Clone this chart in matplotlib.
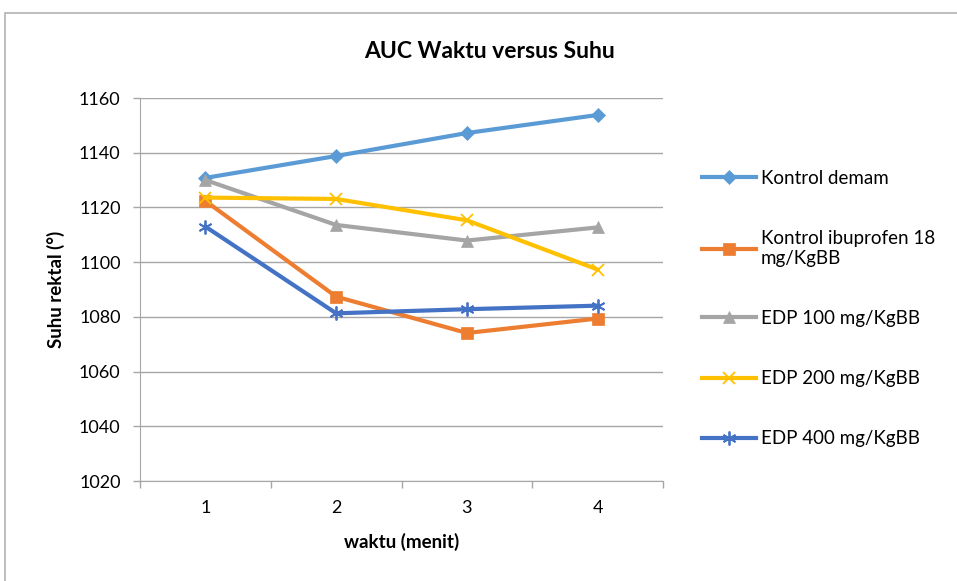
import matplotlib.pyplot as plt
from matplotlib.patches import Rectangle

plt.rcParams['font.family'] = ['Lato', 'DejaVu Sans']

# data
waktu = [1, 2, 3, 4]
kontrol_demam = [1130.8, 1138.8, 1147.2, 1153.8]
kontrol_ibuprofen = [1122.4, 1087.4, 1074.1, 1079.4]
edp_100 = [1130.0, 1113.6, 1107.9, 1112.7]
edp_200 = [1123.6, 1123.1, 1115.3, 1097.3]
edp_400 = [1113.0, 1081.3, 1082.8, 1084.1]

labels = ['Kontrol demam', 'Kontrol ibuprofen 18\nmg/KgBB', 'EDP 100 mg/KgBB',
          'EDP 200 mg/KgBB', 'EDP 400 mg/KgBB']
series = [kontrol_demam, kontrol_ibuprofen, edp_100, edp_200, edp_400]
colors = ['#5B9BD5', '#ED7D31', '#A5A5A5', '#FFC000', '#4472C4']
markers = ['D', 's', '^', 'x', (6, 2, 0)]
msizes = [7, 9, 9, 9, 10]

fig = plt.figure(figsize=(9.57, 5.81), dpi=100)
ax = fig.add_axes([0.1463, 0.1721, 0.5465, 0.6592])

# chart border
fig.patches.append(Rectangle((5 / 957, -0.01), 1.0, 1 - 13 / 581 + 0.01,
                             transform=fig.transFigure, fill=False,
                             edgecolor='#b3b3b3', linewidth=1.2))

for vals, lab, c, m, ms in zip(series, labels, colors, markers, msizes):
    ax.plot(waktu, vals, color=c, linewidth=3.0, marker=m, markersize=ms,
            markeredgewidth=1.3 if m not in ('D', 's', '^') else 0.5,
            markeredgecolor=c, label=lab)

ax.set_xlim(0.5, 4.5)
ax.set_ylim(1020, 1160)
ax.set_yticks(range(1020, 1161, 20))
ax.set_xticks(waktu)
ax.set_xticks([0.5, 1.5, 2.5, 3.5, 4.5], minor=True)
ax.tick_params(axis='x', which='major', length=0, pad=14, labelsize=13)
ax.tick_params(axis='x', which='minor', length=5, color='#a6a6a6', width=1)
ax.tick_params(axis='y', length=5, color='#a6a6a6', width=1, pad=9, labelsize=13)
ax.grid(axis='y', color='#a6a6a6', linewidth=1)
ax.set_axisbelow(True)
for s in ['top', 'right']:
    ax.spines[s].set_visible(False)
for s in ['left', 'bottom']:
    ax.spines[s].set_color('#a6a6a6')

fig.text(490 / 957, 1 - 52 / 581, 'AUC Waktu versus Suhu', fontsize=16.5,
         fontweight='bold', ha='center', va='center')
ax.set_xlabel('waktu (menit)', fontsize=13.5, fontweight='bold', labelpad=12)
ax.set_ylabel('Suhu rektal (°)', fontsize=13.5, fontweight='bold', labelpad=10)

fig.legend(loc='upper left', bbox_to_anchor=(702 / 957, 1 - 170 / 581), frameon=False,
           fontsize=13.5, labelspacing=2.3, handlelength=2.9, handletextpad=0.25,
           borderaxespad=0, borderpad=0)

fig.savefig('out.png', dpi=100)
